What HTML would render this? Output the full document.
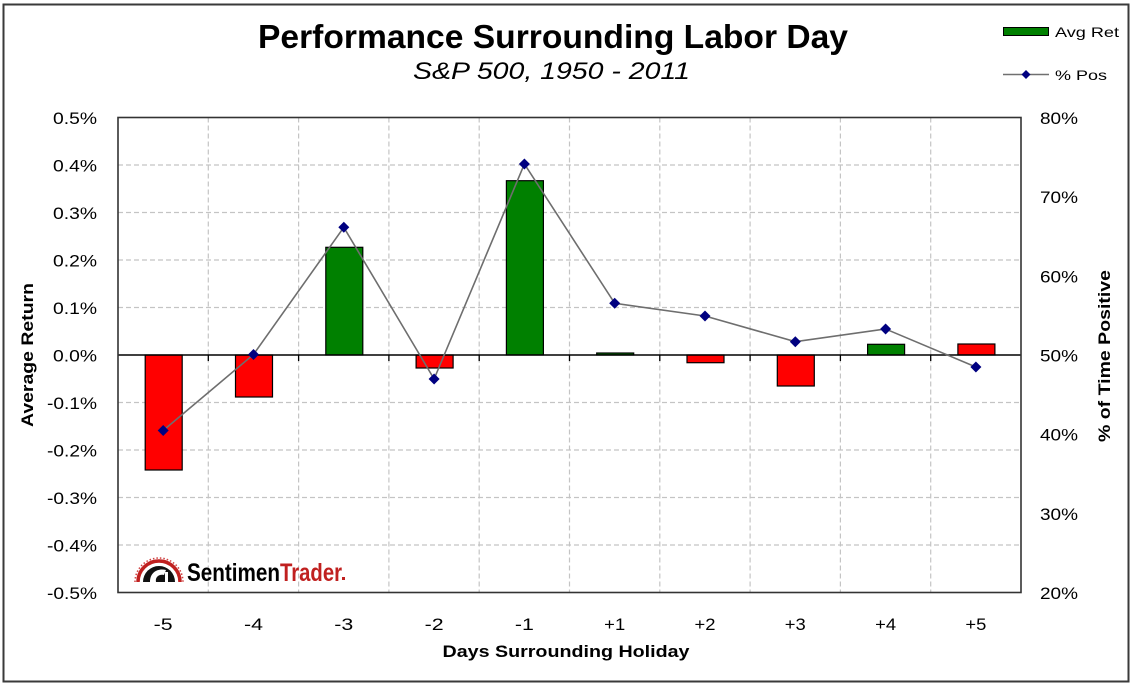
<!DOCTYPE html>
<html><head><meta charset="utf-8"><style>
html,body{margin:0;padding:0;background:#fff;}
svg{display:block;}
text{font-family:"Liberation Sans",Arial,sans-serif;fill:#000;}
</style></head><body>
<svg width="1132" height="698" viewBox="0 0 1132 698" xmlns="http://www.w3.org/2000/svg">
<rect x="0" y="0" width="1132" height="698" fill="#fff"/>
<rect x="3.5" y="4.5" width="1125" height="677" fill="#fff" stroke="#3a3a3a" stroke-width="2"/>

<!-- Title -->
<text x="553" y="48" font-size="33" font-weight="bold" text-anchor="middle" textLength="590" lengthAdjust="spacingAndGlyphs">Performance Surrounding Labor Day</text>
<text x="551.5" y="79" font-size="24" font-style="italic" text-anchor="middle" textLength="277" lengthAdjust="spacingAndGlyphs">S&amp;P 500, 1950 - 2011</text>

<!-- Legend -->
<rect x="1003.5" y="27.5" width="45" height="8" fill="#008000" stroke="#000" stroke-width="1"/>
<text x="1055" y="37" font-size="14" textLength="64" lengthAdjust="spacingAndGlyphs">Avg Ret</text>
<line x1="1003" y1="74.5" x2="1049" y2="74.5" stroke="#707070" stroke-width="1.5"/>
<polygon points="1026,70 1030.5,74.5 1026,79 1021.5,74.5" fill="#000080"/>
<text x="1055" y="80" font-size="14" textLength="52" lengthAdjust="spacingAndGlyphs">% Pos</text>

<!-- Gridlines -->
<g stroke="#c4c4c4" stroke-width="1.2" stroke-dasharray="5,3">
<line x1="118" y1="165" x2="1021" y2="165"/>
<line x1="118" y1="212.5" x2="1021" y2="212.5"/>
<line x1="118" y1="260" x2="1021" y2="260"/>
<line x1="118" y1="307.5" x2="1021" y2="307.5"/>
<line x1="118" y1="402.5" x2="1021" y2="402.5"/>
<line x1="118" y1="450" x2="1021" y2="450"/>
<line x1="118" y1="497.5" x2="1021" y2="497.5"/>
<line x1="118" y1="545" x2="1021" y2="545"/>
<line x1="208.3" y1="117.5" x2="208.3" y2="592.5"/>
<line x1="298.6" y1="117.5" x2="298.6" y2="592.5"/>
<line x1="388.9" y1="117.5" x2="388.9" y2="592.5"/>
<line x1="479.2" y1="117.5" x2="479.2" y2="592.5"/>
<line x1="569.5" y1="117.5" x2="569.5" y2="592.5"/>
<line x1="659.8" y1="117.5" x2="659.8" y2="592.5"/>
<line x1="750.1" y1="117.5" x2="750.1" y2="592.5"/>
<line x1="840.4" y1="117.5" x2="840.4" y2="592.5"/>
<line x1="930.7" y1="117.5" x2="930.7" y2="592.5"/>
</g>

<!-- Logo -->
<g>
<path d="M138,582 A21,21 0 0 1 180,582" fill="none" stroke="#c0201f" stroke-width="3.5"/>
<path d="M135,582 A24,24 0 0 1 183,582" fill="none" stroke="#d04040" stroke-width="1.5" stroke-dasharray="1.5,2"/>
<path d="M143,582 A16,16 0 0 1 175,582 Z" fill="#111"/>
<path d="M150,582 C150,572 158,568 166,570 L164,575 C159,574 155,577 156,582 Z" fill="#fff"/>
<rect x="165" y="572" width="3" height="10" fill="#fff"/>
<text x="187" y="581" font-size="25" font-weight="bold" textLength="93" lengthAdjust="spacingAndGlyphs">Sentimen</text>
<text x="280" y="581" font-size="25" font-weight="bold" fill="#c0201f" style="fill:#c0201f" textLength="62" lengthAdjust="spacingAndGlyphs">Trader</text>
<rect x="342" y="577" width="3" height="3" fill="#c0201f"/>
</g>

<!-- Bars -->
<g stroke="#000" stroke-width="1.2">
<rect x="145.2" y="355" width="37" height="115" fill="#ff0000"/>
<rect x="235.5" y="355" width="37" height="42" fill="#ff0000"/>
<rect x="325.8" y="247.3" width="37" height="107.7" fill="#008000"/>
<rect x="416.1" y="355" width="37" height="13" fill="#ff0000"/>
<rect x="506.4" y="180.7" width="37" height="174.3" fill="#008000"/>
<rect x="596.7" y="353" width="37" height="2" fill="#008000"/>
<rect x="687" y="355" width="37" height="7.7" fill="#ff0000"/>
<rect x="777.3" y="355" width="37" height="31" fill="#ff0000"/>
<rect x="867.6" y="344.3" width="37" height="10.7" fill="#008000"/>
<rect x="957.9" y="344" width="37" height="11" fill="#ff0000"/>
</g>

<!-- Zero line and ticks -->
<line x1="118" y1="355" x2="1021" y2="355" stroke="#000" stroke-width="1.6"/>
<g stroke="#000" stroke-width="1.3">
<line x1="208.3" y1="355" x2="208.3" y2="361"/>
<line x1="298.6" y1="355" x2="298.6" y2="361"/>
<line x1="388.9" y1="355" x2="388.9" y2="361"/>
<line x1="479.2" y1="355" x2="479.2" y2="361"/>
<line x1="569.5" y1="355" x2="569.5" y2="361"/>
<line x1="659.8" y1="355" x2="659.8" y2="361"/>
<line x1="750.1" y1="355" x2="750.1" y2="361"/>
<line x1="840.4" y1="355" x2="840.4" y2="361"/>
<line x1="930.7" y1="355" x2="930.7" y2="361"/>
</g>

<!-- Plot border -->
<rect x="118" y="117.5" width="903" height="475" fill="none" stroke="#333" stroke-width="1.6"/>

<!-- Line series -->
<polyline points="163.2,430.5 253.5,354.5 343.8,227.3 434.1,379 524.4,164 614.7,303.3 705,316 795.3,341.7 885.6,329 975.9,367" fill="none" stroke="#6e6e6e" stroke-width="1.6"/>
<g fill="#000080">
<polygon points="163.2,425 168.7,430.5 163.2,436 157.7,430.5"/>
<polygon points="253.5,349 259,354.5 253.5,360 248,354.5"/>
<polygon points="343.8,221.8 349.3,227.3 343.8,232.8 338.3,227.3"/>
<polygon points="434.1,373.5 439.6,379 434.1,384.5 428.6,379"/>
<polygon points="524.4,158.5 529.9,164 524.4,169.5 518.9,164"/>
<polygon points="614.7,297.8 620.2,303.3 614.7,308.8 609.2,303.3"/>
<polygon points="705,310.5 710.5,316 705,321.5 699.5,316"/>
<polygon points="795.3,336.2 800.8,341.7 795.3,347.2 789.8,341.7"/>
<polygon points="885.6,323.5 891.1,329 885.6,334.5 880.1,329"/>
<polygon points="975.9,361.5 981.4,367 975.9,372.5 970.4,367"/>
</g>

<!-- Left tick labels -->
<g font-size="17" text-anchor="end" fill="#222">
<text x="97" y="124" textLength="44" lengthAdjust="spacingAndGlyphs">0.5%</text>
<text x="97" y="171.5" textLength="44" lengthAdjust="spacingAndGlyphs">0.4%</text>
<text x="97" y="219" textLength="44" lengthAdjust="spacingAndGlyphs">0.3%</text>
<text x="97" y="266.5" textLength="44" lengthAdjust="spacingAndGlyphs">0.2%</text>
<text x="97" y="314" textLength="44" lengthAdjust="spacingAndGlyphs">0.1%</text>
<text x="97" y="361.5" textLength="44" lengthAdjust="spacingAndGlyphs">0.0%</text>
<text x="97" y="409" textLength="50" lengthAdjust="spacingAndGlyphs">-0.1%</text>
<text x="97" y="456.5" textLength="50" lengthAdjust="spacingAndGlyphs">-0.2%</text>
<text x="97" y="504" textLength="50" lengthAdjust="spacingAndGlyphs">-0.3%</text>
<text x="97" y="551.5" textLength="50" lengthAdjust="spacingAndGlyphs">-0.4%</text>
<text x="97" y="599" textLength="50" lengthAdjust="spacingAndGlyphs">-0.5%</text>
</g>

<!-- Right tick labels -->
<g font-size="17">
<text x="1040" y="124" textLength="38" lengthAdjust="spacingAndGlyphs">80%</text>
<text x="1040" y="203.2" textLength="38" lengthAdjust="spacingAndGlyphs">70%</text>
<text x="1040" y="282.3" textLength="38" lengthAdjust="spacingAndGlyphs">60%</text>
<text x="1040" y="361.5" textLength="38" lengthAdjust="spacingAndGlyphs">50%</text>
<text x="1040" y="440.7" textLength="38" lengthAdjust="spacingAndGlyphs">40%</text>
<text x="1040" y="519.8" textLength="38" lengthAdjust="spacingAndGlyphs">30%</text>
<text x="1040" y="599" textLength="38" lengthAdjust="spacingAndGlyphs">20%</text>
</g>

<!-- X tick labels -->
<g font-size="17" text-anchor="middle">
<text x="163.2" y="630" textLength="19" lengthAdjust="spacingAndGlyphs">-5</text>
<text x="253.5" y="630" textLength="19" lengthAdjust="spacingAndGlyphs">-4</text>
<text x="343.8" y="630" textLength="19" lengthAdjust="spacingAndGlyphs">-3</text>
<text x="434.1" y="630" textLength="19" lengthAdjust="spacingAndGlyphs">-2</text>
<text x="524.4" y="630" textLength="19" lengthAdjust="spacingAndGlyphs">-1</text>
<text x="614.7" y="630" textLength="21" lengthAdjust="spacingAndGlyphs">+1</text>
<text x="705" y="630" textLength="21" lengthAdjust="spacingAndGlyphs">+2</text>
<text x="795.3" y="630" textLength="21" lengthAdjust="spacingAndGlyphs">+3</text>
<text x="885.6" y="630" textLength="21" lengthAdjust="spacingAndGlyphs">+4</text>
<text x="975.9" y="630" textLength="21" lengthAdjust="spacingAndGlyphs">+5</text>
</g>

<!-- Axis titles -->
<text x="566" y="657" font-size="17" font-weight="bold" text-anchor="middle" textLength="247" lengthAdjust="spacingAndGlyphs">Days Surrounding Holiday</text>
<text transform="translate(33,355) rotate(-90)" x="0" y="0" font-size="17" font-weight="bold" text-anchor="middle" textLength="144" lengthAdjust="spacingAndGlyphs">Average Return</text>
<text transform="translate(1110,356) rotate(-90)" x="0" y="0" font-size="17" font-weight="bold" text-anchor="middle" textLength="172" lengthAdjust="spacingAndGlyphs">% of Time Positive</text>
</svg>
</body></html>
